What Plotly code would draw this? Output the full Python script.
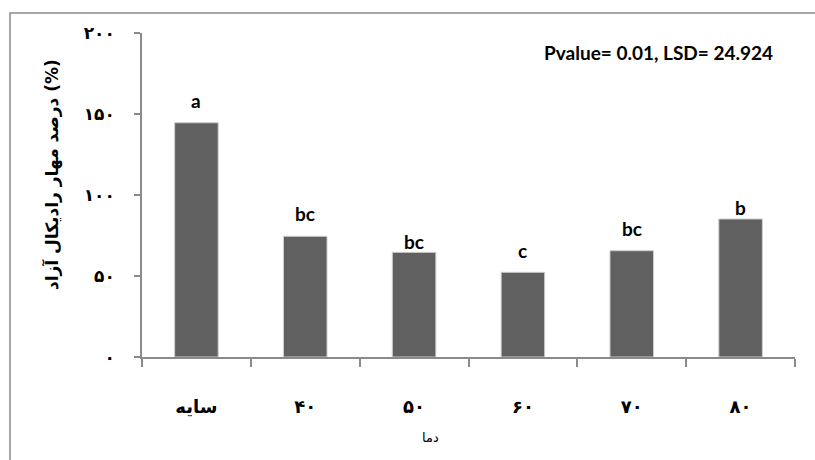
import plotly.graph_objects as go

categories = ["سایه", "۴۰", "۵۰", "۶۰", "۷۰", "۸۰"]
values = [144.6, 74.5, 64.6, 52.3, 65.6, 85.2]
letters = ["a", "bc", "bc", "c", "bc", "b"]
ytick_vals = [0, 50, 100, 150, 200]
ytick_text = ["۰", "۵۰", "۱۰۰", "۱۵۰", "۲۰۰"]

# pixel geometry of plot area
W, H = 815, 460
L, R, T, B = 142, 795, 33, 357

letter_shift = [22, 23, 11, 22, 22, 11]

fig = go.Figure()
fig.add_trace(go.Bar(
    x=categories, y=values, width=0.4,
    marker=dict(color="#606060", line=dict(color="#cfcfcf", width=1)),
    hoverinfo="skip",
))

for c, v, t, s in zip(categories, values, letters, letter_shift):
    fig.add_annotation(x=c, y=v, text="<b>" + t + "</b>", showarrow=False,
                       yanchor="middle", yshift=s,
                       font=dict(family="Lato, Open Sans, sans-serif", size=19, color="#000"))

fig.add_annotation(xref="paper", yref="paper", x=(658 - L) / (R - L), y=(B - 52) / (B - T),
                   text="<b>Pvalue= 0.01, LSD= 24.924</b>", showarrow=False,
                   xanchor="center", yanchor="middle",
                   font=dict(family="Lato, Open Sans, sans-serif", size=19, color="#000"))

fig.add_annotation(xref="paper", yref="paper", x=(52 - L) / (R - L), y=(B - 175) / (B - T),
                   text="<b>درصد مهار رادیکال آزاد (%)</b>", textangle=-90, showarrow=False,
                   xanchor="center", yanchor="middle",
                   font=dict(family="DejaVu Sans, sans-serif", size=17, color="#000"))

fig.add_annotation(xref="paper", yref="paper", x=(430 - L) / (R - L), y=(B - 437) / (B - T),
                   text="دما", showarrow=False, xanchor="center", yanchor="middle",
                   font=dict(family="DejaVu Sans, sans-serif", size=13, color="#000"))

# outer frame
fig.add_shape(type="rect", xref="paper", yref="paper",
              x0=(10 - L) / (R - L), x1=(830 - L) / (R - L),
              y0=(B - 470) / (B - T), y1=(B - 13) / (B - T),
              line=dict(color="#8a8a8a", width=1.5), fillcolor="rgba(0,0,0,0)", layer="below")

fig.update_layout(
    width=W, height=H,
    margin=dict(l=L, r=W - R, t=T, b=H - B),
    plot_bgcolor="white", paper_bgcolor="white",
    showlegend=False, bargap=0.6,
    xaxis=dict(
        showline=True, linecolor="#8a8a8a", linewidth=1.5,
        ticks="outside", tickson="boundaries", ticklen=8, tickcolor="#8a8a8a", tickwidth=1.5,
        ticklabelstandoff=33,
        tickfont=dict(family="DejaVu Sans, sans-serif", size=18, color="#000", weight="bold"),
        showgrid=False, fixedrange=True,
    ),
    yaxis=dict(
        range=[0, 200], tickvals=ytick_vals, ticktext=ytick_text,
        showline=True, linecolor="#8a8a8a", linewidth=1.5,
        ticks="outside", ticklen=6, tickcolor="#8a8a8a", tickwidth=1.5,
        ticklabelstandoff=16,
        tickfont=dict(family="DejaVu Sans, sans-serif", size=17, color="#000", weight="bold"),
        showgrid=False, zeroline=False, fixedrange=True,
    ),
)

fig.write_html("out.html", config={"displayModeBar": False},
               post_script="document.body.style.margin='0';")
